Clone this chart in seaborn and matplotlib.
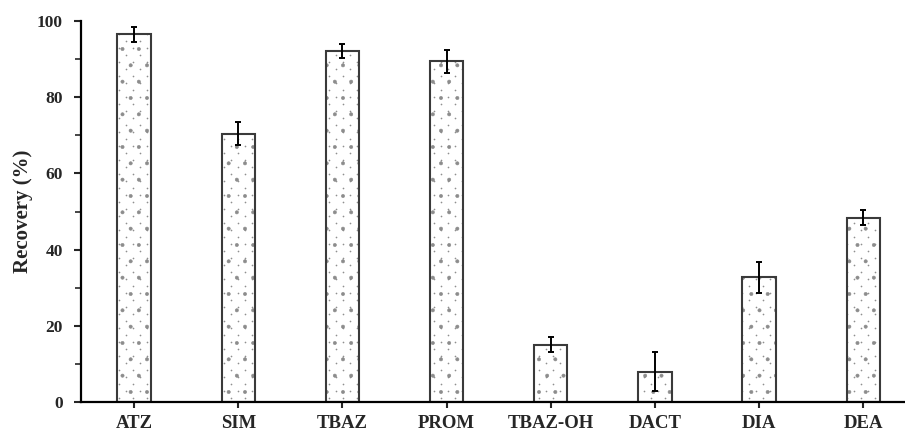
import matplotlib
matplotlib.use("Agg")
import matplotlib.pyplot as plt
import matplotlib.hatch as mhatch
from matplotlib.path import Path
import numpy as np
import seaborn as sns
import pandas as pd
from matplotlib.ticker import MultipleLocator

categories = ["ATZ", "SIM", "TBAZ", "PROM", "TBAZ-OH", "DACT", "DIA", "DEA"]
recovery = [96.5, 70.4, 92.1, 89.4, 15.0, 8.0, 32.7, 48.4]
error = [1.9, 3.0, 1.9, 3.0, 2.0, 5.0, 4.0, 2.0]

DPI = 98              # hatch tile = DPI px -> 14 rows of exactly 7 px
S = 100.0 / DPI       # point-size scale so sizes match a 100-dpi layout


class SparseDots(mhatch.Shapes):
    """Staggered sparse dot hatch: rows 7 px apart, dots 14 px apart in a row."""
    filled = True
    size = 1.0

    def __init__(self, hatch, density):
        self.rows = 14 if hatch.count('.') else 0
        self.cols = 7
        self.num_rows = self.rows
        circ = Path.unit_circle()
        self.shape_vertices = circ.vertices
        self.shape_codes = circ.codes
        if self.rows:
            self.num_shapes = (self.rows // 2 + 1) * (self.cols + 1) + (self.rows // 2) * self.cols
        else:
            self.num_shapes = 0
        self.num_vertices = self.num_shapes * len(self.shape_vertices)

    def set_vertices_and_codes(self, vertices, codes):
        r = 0.55 / DPI
        half = 0.5 / DPI
        sv = self.shape_vertices * r
        dy = 1.0 / self.rows
        dx = 1.0 / self.cols
        vparts, cparts = [], []
        for row in range(self.rows + 1):
            if row % 2 == 0:
                xs = np.linspace(0, 1, self.cols + 1)
            else:
                xs = np.linspace(dx / 2, 1 - dx / 2, self.cols)
            for x in xs:
                vparts.append(sv + [x + half, row * dy + half])
                cparts.append(self.shape_codes)
        np.concatenate(vparts, out=vertices)
        np.concatenate(cparts, out=codes)


mhatch._hatch_types = [SparseDots if t is mhatch.SmallCircles else t
                       for t in mhatch._hatch_types]

sns.set_style("ticks")
plt.rcParams["font.family"] = ["Liberation Serif", "DejaVu Serif"]
plt.rcParams["font.weight"] = "bold"
plt.rcParams["hatch.linewidth"] = 0.4

df = pd.DataFrame({"cat": categories, "rec": recovery, "err": error})

fig = plt.figure(figsize=(906 / DPI, 433 / DPI), dpi=DPI)
ax = fig.add_axes([81/906, 31/433, 825/906, 381/433])

# hatched fill
sns.barplot(data=df, x="cat", y="rec", ax=ax, width=0.32, color="white",
            edgecolor="#8c8c8c", linewidth=0, hatch=".", errorbar=None)
# outlines
sns.barplot(data=df, x="cat", y="rec", ax=ax, width=0.32, fill=False,
            edgecolor="#3a3a3a", linewidth=1.5 * S, errorbar=None)

ax.errorbar(x=list(range(len(categories))), y=recovery, yerr=error, fmt="none",
            ecolor="black", elinewidth=1.4 * S, capsize=2.5 * S, capthick=1.4 * S)

ax.set_xlim(-0.51, 7.41)
ax.set_ylim(0, 100)
ax.yaxis.set_major_locator(MultipleLocator(20))
ax.yaxis.set_minor_locator(MultipleLocator(10))
sns.despine(ax=ax)
for s in ["left", "bottom"]:
    ax.spines[s].set_linewidth(1.6 * S)
    ax.spines[s].set_color("black")
ax.tick_params(axis="y", which="major", length=5 * S, width=1.5 * S,
               labelsize=12.5 * S, pad=8 * S)
ax.tick_params(axis="y", which="minor", length=4 * S, width=1.2 * S)
ax.tick_params(axis="x", length=4 * S, width=1.5 * S, labelsize=13.5 * S, pad=5.5 * S)
for lab in ax.get_xticklabels() + ax.get_yticklabels():
    lab.set_fontweight("bold")
ax.set_xlabel("")
ax.set_ylabel("Recovery (%)", fontsize=15 * S, fontweight="bold", labelpad=3 * S)

fig.savefig("out.png", dpi=DPI)
